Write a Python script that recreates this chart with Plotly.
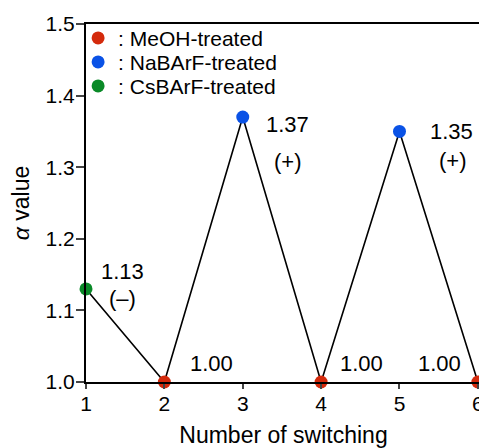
import plotly.graph_objects as go

# Data
switch_no = [1, 2, 3, 4, 5, 6]
alpha_vals = [1.13, 1.00, 1.37, 1.00, 1.35, 1.00]
treatment = ["CsBArF", "MeOH", "NaBArF", "MeOH", "NaBArF", "MeOH"]
value_labels = ["1.13", "1.00", "1.37", "1.00", "1.35", "1.00"]
sign_labels = ["(\u2013)", "", "(+)", "", "(+)", ""]
y_ticks = [1.0, 1.1, 1.2, 1.3, 1.4, 1.5]

groups = [
    ("MeOH", ": MeOH-treated", "#d42a0c", "legend", 0.96),
    ("NaBArF", ": NaBArF-treated", "#0a52e6", "legend2", 0.893),
    ("CsBArF", ": CsBArF-treated", "#0a8a28", "legend3", 0.826),
]

FONT = "Liberation Sans, Arial, sans-serif"

fig = go.Figure()
fig.add_trace(go.Scatter(x=switch_no, y=alpha_vals, mode="lines",
                         line=dict(color="black", width=1.6),
                         showlegend=False, hoverinfo="skip", cliponaxis=False))
legends = {}
for key, name, color, leg, ly in groups:
    xs = [x for x, t in zip(switch_no, treatment) if t == key]
    ys = [y for y, t in zip(alpha_vals, treatment) if t == key]
    fig.add_trace(go.Scatter(x=xs, y=ys, mode="markers", name=name, legend=leg,
                             marker=dict(color=color, size=13, line=dict(width=0)),
                             cliponaxis=False))
    legends[leg] = dict(x=-0.02, y=ly, xanchor="left", yanchor="middle",
                        bgcolor="rgba(0,0,0,0)", font=dict(size=21, family=FONT),
                        itemwidth=30)

# label offsets (pixels) per point
val_shift = [(36, 17), (47, 19), (45, -7), (40, 19), (52, 0), (-38, 19)]
sign_shift = [(36, -10), None, (45, -44), None, (54, -29), None]
for i, (x, y) in enumerate(zip(switch_no, alpha_vals)):
    dx, dy = val_shift[i]
    fig.add_annotation(x=x, y=y, text=value_labels[i], showarrow=False,
                       xshift=dx, yshift=dy, font=dict(size=22, color="black", family=FONT))
    if sign_labels[i]:
        sx, sy = sign_shift[i]
        fig.add_annotation(x=x, y=y, text=sign_labels[i], showarrow=False,
                           xshift=sx, yshift=sy, font=dict(size=22, color="black", family=FONT))

fig.update_layout(
    width=479, height=440,
    margin=dict(l=78, r=3, t=16, b=66),
    paper_bgcolor="white", plot_bgcolor="white",
    font=dict(family=FONT, size=21, color="black"),
    showlegend=True,
    xaxis=dict(range=[1, 6.04], tickvals=switch_no, ticks="outside", ticklen=5,
               tickwidth=1.5, showline=True, linecolor="black", linewidth=2,
               mirror=True, showgrid=False, zeroline=False, ticklabelstandoff=-3,
               title=dict(text="Number of switching", standoff=14, font=dict(size=23))),
    yaxis=dict(range=[1.0, 1.5], tickvals=y_ticks,
               tickformat=".1f", ticks="outside", ticklen=8, tickwidth=1.5,
               showline=True, linecolor="black", linewidth=2, mirror=True,
               showgrid=False, zeroline=False, ticklabelstandoff=-3,
               title=dict(text="<i>\u03b1</i> value", standoff=12, font=dict(size=23))),
    **legends,
)

fig.write_html("out.html")
